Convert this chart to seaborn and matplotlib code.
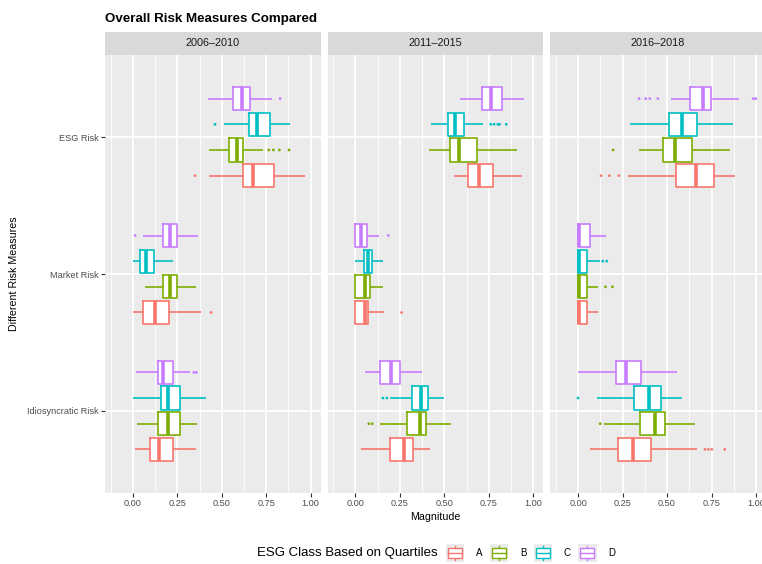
import numpy as np
import pandas as pd
import matplotlib
matplotlib.use("Agg")
import matplotlib.pyplot as plt
import seaborn as sns
from matplotlib.patches import Rectangle, Patch
from matplotlib.lines import Line2D
from matplotlib.legend_handler import HandlerBase

# ---------------- data ----------------
PERIODS = ["2006–2010", "2011–2015", "2016–2018"]
MEASURES = ["ESG Risk", "Market Risk", "Idiosyncratic Risk"]
CLASSES = ["A", "B", "C", "D"]
COLORS = ["#F8766D", "#7CAE00", "#00BFC4", "#C77CFF"]

# rows: ESG Risk, Market Risk, Idiosyncratic Risk ; columns: A, B, C, D
lo_p1 = [[0.431, 0.429, 0.515, 0.425], [0.002, 0.071, 0.002, 0.060], [0.013, 0.026, 0.004, 0.020]]
q1_p1 = [[0.620, 0.543, 0.651, 0.565], [0.056, 0.170, 0.039, 0.169], [0.096, 0.144, 0.157, 0.144]]
med_p1 = [[0.678, 0.584, 0.700, 0.616], [0.124, 0.211, 0.073, 0.211], [0.148, 0.200, 0.200, 0.172]]
q3_p1 = [[0.796, 0.621, 0.771, 0.657], [0.206, 0.251, 0.122, 0.251], [0.225, 0.268, 0.264, 0.225]]
hi_p1 = [[0.966, 0.732, 0.884, 0.784], [0.382, 0.354, 0.228, 0.367], [0.354, 0.361, 0.410, 0.322]]

lo_p2 = [[0.556, 0.412, 0.423, 0.586], [0.000, 0.000, 0.000, 0.000], [0.030, 0.139, 0.195, 0.055]]
q1_p2 = [[0.635, 0.532, 0.519, 0.712], [0.000, 0.000, 0.047, 0.000], [0.193, 0.292, 0.317, 0.139]]
med_p2 = [[0.695, 0.579, 0.558, 0.760], [0.055, 0.051, 0.070, 0.032], [0.272, 0.365, 0.369, 0.197]]
q3_p2 = [[0.772, 0.685, 0.611, 0.824], [0.071, 0.083, 0.094, 0.066], [0.326, 0.399, 0.410, 0.253]]
hi_p2 = [[0.935, 0.907, 0.716, 0.946], [0.160, 0.152, 0.152, 0.135], [0.420, 0.536, 0.500, 0.373]]

lo_p3 = [[0.279, 0.345, 0.294, 0.521], [0.000, 0.000, 0.000, 0.000], [0.066, 0.148, 0.108, 0.002]]
q1_p3 = [[0.552, 0.479, 0.513, 0.631], [0.000, 0.000, 0.000, 0.000], [0.227, 0.350, 0.315, 0.213]]
med_p3 = [[0.661, 0.543, 0.582, 0.700], [0.004, 0.004, 0.004, 0.004], [0.311, 0.431, 0.397, 0.270]]
q3_p3 = [[0.764, 0.638, 0.669, 0.749], [0.052, 0.052, 0.052, 0.069], [0.412, 0.489, 0.468, 0.356]]
hi_p3 = [[0.884, 0.854, 0.869, 0.906], [0.114, 0.114, 0.124, 0.159], [0.667, 0.659, 0.582, 0.556]]

# outliers
out_period = [0, 0, 0, 0, 0, 0, 0, 0, 0, 0, 0,
              1, 1, 1, 1, 1, 1, 1, 1, 1, 1, 1,
              2, 2, 2, 2, 2, 2, 2, 2, 2, 2, 2, 2, 2, 2, 2, 2, 2, 2, 2, 2]
out_measure = ["ESG Risk", "ESG Risk", "ESG Risk", "ESG Risk", "ESG Risk", "ESG Risk", "ESG Risk",
               "Market Risk", "Market Risk", "Idiosyncratic Risk", "Idiosyncratic Risk",
               "ESG Risk", "ESG Risk", "ESG Risk", "ESG Risk", "ESG Risk",
               "Market Risk", "Market Risk",
               "Idiosyncratic Risk", "Idiosyncratic Risk", "Idiosyncratic Risk", "Idiosyncratic Risk",
               "ESG Risk", "ESG Risk", "ESG Risk", "ESG Risk", "ESG Risk", "ESG Risk",
               "ESG Risk", "ESG Risk", "ESG Risk", "ESG Risk",
               "Market Risk", "Market Risk", "Market Risk", "Market Risk",
               "Idiosyncratic Risk", "Idiosyncratic Risk", "Idiosyncratic Risk", "Idiosyncratic Risk",
               "Idiosyncratic Risk", "Idiosyncratic Risk"]
out_class = ["D", "C", "B", "B", "B", "B", "A",
             "D", "A", "D", "D",
             "C", "C", "C", "C", "C",
             "D", "A",
             "C", "C", "B", "B",
             "D", "D", "D", "D", "D", "D",
             "B", "A", "A", "A",
             "C", "C", "B", "B",
             "C", "B", "A", "A", "A", "A"]
out_value = [0.828, 0.462, 0.764, 0.790, 0.824, 0.878, 0.350,
             0.013, 0.440, 0.343, 0.357,
             0.760, 0.779, 0.800, 0.809, 0.847,
             0.184, 0.259,
             0.154, 0.176, 0.075, 0.094,
             0.343, 0.380, 0.403, 0.448, 0.985, 0.998,
             0.197, 0.129, 0.176, 0.229,
             0.139, 0.161, 0.154, 0.193,
             0.000, 0.124, 0.713, 0.732, 0.751, 0.824]

XTICKS = [0.0, 0.25, 0.5, 0.75, 1.0]
XTICKLABELS = ["0.00", "0.25", "0.50", "0.75", "1.00"]

STATS = [
    (lo_p1, q1_p1, med_p1, q3_p1, hi_p1),
    (lo_p2, q1_p2, med_p2, q3_p2, hi_p2),
    (lo_p3, q1_p3, med_p3, q3_p3, hi_p3),
]

# ---------------- tidy tables ----------------
rows = []
for p, stats in enumerate(STATS):
    for m, meas in enumerate(MEASURES):
        for c, cls in enumerate(CLASSES):
            for s in stats:
                rows.append(dict(period=PERIODS[p], measure=meas, cls=cls, value=s[m][c]))
df = pd.DataFrame(rows)

HUE_ORDER = ["D", "C", "B", "A"]   # top-to-bottom inside each group
BOX_WIDTH = 0.75
n_h = len(HUE_ORDER)
each = BOX_WIDTH / n_h
offs = np.linspace(0, BOX_WIDTH - each, n_h)
offs = offs - offs.mean()

odf = pd.DataFrame(dict(period=[PERIODS[i] for i in out_period], measure=out_measure,
                        cls=out_class, value=out_value))
odf["ypos"] = [MEASURES.index(m) + offs[HUE_ORDER.index(c)] for m, c in zip(odf.measure, odf.cls)]

pal = dict(zip(CLASSES, COLORS))
white_pal = {c: "white" for c in CLASSES}

# ---------------- figure ----------------
plt.rcParams["font.family"] = ["Liberation Sans", "DejaVu Sans"]
W, H = 762, 564
fig = plt.figure(figsize=(W / 100, H / 100), dpi=100)


def fx(px):
    return px / W


def fy(py):
    return 1 - py / H


panel_left = [105.0, 327.7, 550.3]
panel_w = 215.7
panel_top, panel_bot = 55.0, 493.0
strip_top = 31.7

for p, period in enumerate(PERIODS):
    ax = fig.add_axes([fx(panel_left[p]), fy(panel_bot), panel_w / W, (panel_bot - panel_top) / H])
    ax.set_facecolor("#EBEBEB")
    sub = df[df.period == period]
    # white fill
    sns.boxplot(data=sub, x="value", y="measure", hue="cls", order=MEASURES, hue_order=HUE_ORDER,
                palette=white_pal, orient="h", width=BOX_WIDTH, gap=0.1, whis=(0, 100),
                showfliers=False, fill=True, linewidth=0, showcaps=False, legend=False, ax=ax)
    # coloured outlines
    sns.boxplot(data=sub, x="value", y="measure", hue="cls", order=MEASURES, hue_order=HUE_ORDER,
                palette=pal, orient="h", width=BOX_WIDTH, gap=0.1, whis=(0, 100),
                showfliers=False, fill=False, linewidth=1.2, showcaps=False,
                medianprops=dict(linewidth=2.6), legend=False, ax=ax)
    osub = odf[odf.period == period]
    sns.scatterplot(data=osub, x="value", y="ypos", hue="cls", palette=pal, s=4, linewidth=0,
                    legend=False, ax=ax, zorder=3)

    ax.set_xlim(-0.156, 1.056)
    ax.set_ylim(2.6, -0.6)
    ax.set_xticks(XTICKS)
    ax.set_xticklabels(XTICKLABELS)
    ax.set_xticks([-0.125, 0.125, 0.375, 0.625, 0.875], minor=True)
    ax.set_yticks(range(len(MEASURES)))
    ax.set_yticklabels(MEASURES)
    ax.set_xlabel("")
    ax.set_ylabel("")
    ax.set_axisbelow(True)
    ax.grid(which="major", axis="both", color="white", linewidth=1.3)
    ax.grid(which="minor", axis="x", color="white", linewidth=0.6)
    for s in ax.spines.values():
        s.set_visible(False)
    ax.tick_params(axis="both", which="major", length=2.6, width=0.8, color="#333333",
                   labelcolor="#4D4D4D", labelsize=6.6, pad=2)
    ax.tick_params(axis="x", which="minor", length=0)
    if p > 0:
        ax.tick_params(axis="y", left=False, labelleft=False)

    # strip
    sax = fig.add_axes([fx(panel_left[p]), fy(panel_top), panel_w / W, (panel_top - strip_top) / H])
    sax.set_facecolor("#D9D9D9")
    sax.set_xticks([])
    sax.set_yticks([])
    for s in sax.spines.values():
        s.set_visible(False)
    sax.text(0.5, 0.5, period, ha="center", va="center", fontsize=7.8, color="#1A1A1A",
             transform=sax.transAxes)

# titles
fig.text(fx(105), fy(22), "Overall Risk Measures Compared", fontsize=9.6, fontweight="bold",
         ha="left", va="baseline", color="black")
fig.text(fx(435), fy(517), "Magnitude", fontsize=7.7, ha="center", va="center", color="black")
fig.text(fx(14), fy(274), "Different Risk Measures", fontsize=7.7, ha="center", va="center",
         rotation=90, color="black")


# legend
class BoxKeyHandler(HandlerBase):
    def create_artists(self, legend, orig_handle, xdescent, ydescent, width, height, fontsize, trans):
        c = orig_handle.get_edgecolor()
        side = width
        x0 = -xdescent
        y0 = -ydescent + height / 2 - side / 2
        arts = [Rectangle((x0, y0), side, side, facecolor="#EBEBEB", edgecolor="none", transform=trans)]
        xc = x0 + side / 2
        arts.append(Line2D([xc, xc], [y0 + 0.1 * side, y0 + 0.25 * side], color=c, lw=1.0, transform=trans))
        arts.append(Line2D([xc, xc], [y0 + 0.75 * side, y0 + 0.9 * side], color=c, lw=1.0, transform=trans))
        arts.append(Rectangle((x0 + 0.125 * side, y0 + 0.25 * side), 0.75 * side, 0.5 * side,
                              facecolor="white", edgecolor=c, lw=1.0, transform=trans))
        arts.append(Line2D([x0 + 0.125 * side, x0 + 0.875 * side], [y0 + 0.5 * side] * 2,
                           color=c, lw=1.0, transform=trans))
        return arts


handles = [Patch(facecolor="white", edgecolor=col) for col in COLORS]
fig.text(fx(257), fy(553), "ESG Class Based on Quartiles", fontsize=9.5, ha="left", va="center")
fig.legend(handles, CLASSES, handler_map={Patch: BoxKeyHandler()}, loc="center left",
           bbox_to_anchor=(fx(446), fy(553)), ncol=4, frameon=False, fontsize=7.0,
           handlelength=1.9, handleheight=1.9, handletextpad=1.2, columnspacing=0.75,
           borderpad=0, borderaxespad=0)

fig.savefig("out.png", dpi=100)
